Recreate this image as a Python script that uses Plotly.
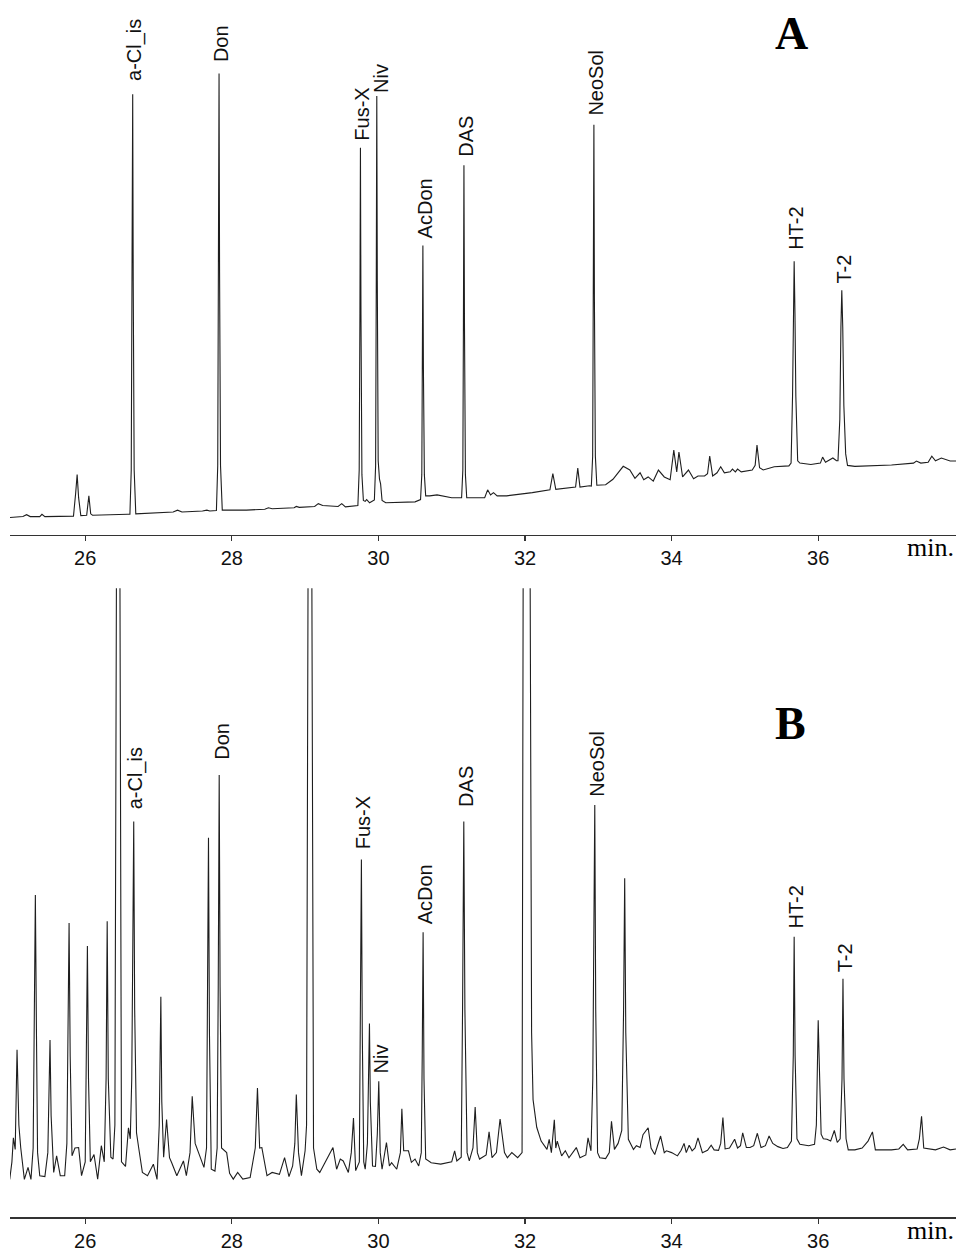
import plotly.graph_objects as go

# ---------------- data (retention time in min, relative intensity) ----------------
time_a = [24.97, 25.15, 25.20, 25.25, 25.38, 25.41, 25.45, 25.84, 25.87, 25.89, 25.91, 25.94,
          26.02, 26.05, 26.075, 26.10, 26.58,
          26.61, 26.628, 26.641, 26.648, 26.655, 26.668, 26.69,
          27.20, 27.26, 27.32, 27.60, 27.66, 27.70,
          27.79, 27.808, 27.819, 27.826, 27.833, 27.846, 27.87,
          28.20, 28.45, 28.50, 28.55, 28.85, 28.88, 28.92, 29.13, 29.18, 29.24, 29.45, 29.50, 29.55,
          29.72, 29.738, 29.748, 29.755, 29.762, 29.775, 29.795, 29.82, 29.84, 29.88,
          29.945, 29.962, 29.971, 29.978, 29.985, 29.997, 30.015, 30.03, 30.05, 30.10, 30.50,
          30.575, 30.592, 30.600, 30.607, 30.614, 30.627, 30.645, 30.70, 30.80, 31.00,
          31.135, 31.152, 31.160, 31.167, 31.174, 31.187, 31.205,
          31.45, 31.49, 31.53, 31.57, 31.62, 31.75, 32.00, 32.10, 32.34, 32.38, 32.42, 32.55,
          32.69, 32.72, 32.75, 32.88,
          32.905, 32.923, 32.933, 32.940, 32.947, 32.960, 32.98,
          33.10, 33.20, 33.34, 33.43, 33.50, 33.57, 33.62, 33.68, 33.75, 33.82, 33.90, 33.98,
          34.03, 34.07, 34.10, 34.15, 34.23, 34.30, 34.36, 34.45, 34.49, 34.52, 34.56, 34.62,
          34.67, 34.72, 34.80, 34.83, 34.87, 34.90, 34.95, 35.10, 35.14, 35.165, 35.20, 35.25,
          35.40, 35.60,
          35.63, 35.65, 35.662, 35.672, 35.683, 35.695, 35.72,
          35.75, 35.90, 36.03, 36.06, 36.10, 36.20, 36.25,
          36.27, 36.295, 36.31, 36.322, 36.335, 36.35, 36.375, 36.40,
          36.50, 37.00, 37.30, 37.34, 37.40, 37.50, 37.55, 37.60, 37.68, 37.80, 37.88]
signal_a = [3.7, 3.9, 4.3, 3.9, 3.9, 4.4, 3.9, 4.0, 9.0, 13.0, 8.0, 4.1,
            4.2, 8.4, 4.5, 4.2, 4.4,
            4.4, 14.0, 55.0, 95.5, 55.0, 14.0, 4.5,
            4.9, 5.3, 4.9, 5.1, 5.3, 5.1,
            5.2, 15.0, 57.0, 100.0, 57.0, 15.0, 5.3,
            5.3, 5.5, 5.8, 5.6, 5.8, 6.1, 5.9, 6.1, 6.7, 6.3, 6.1, 6.7, 6.0,
            6.3, 14.0, 48.0, 83.9, 48.0, 13.0, 7.4, 7.2, 7.6, 6.9,
            7.5, 15.0, 55.0, 95.1, 55.0, 16.0, 12.0, 11.0, 7.4, 6.9, 7.1,
            7.6, 13.0, 36.0, 62.7, 36.0, 13.0, 8.4, 8.4, 8.6, 8.0,
            8.0, 14.0, 46.0, 80.1, 46.0, 13.0, 8.0,
            8.0, 9.7, 8.6, 9.1, 8.4, 8.4, 8.8, 9.1, 9.7, 13.2, 9.8, 10.1,
            10.3, 14.4, 10.3, 10.6,
            10.5, 17.0, 51.0, 88.9, 51.0, 17.0, 10.7,
            10.8, 12.0, 14.8, 14.0, 12.2, 13.4, 11.9, 12.5, 11.6, 14.0, 12.5, 11.9,
            18.3, 13.6, 17.9, 12.5, 14.0, 12.1, 12.7, 12.7, 13.2, 17.0, 12.7, 13.4,
            14.7, 13.4, 13.6, 14.2, 13.6, 14.2, 13.6, 14.0, 15.0, 19.4, 14.5, 14.0,
            14.7, 14.9,
            15.5, 30.0, 48.0, 59.3, 48.0, 30.0, 16.0,
            15.5, 15.2, 15.5, 16.8, 15.7, 16.6, 16.0,
            16.0, 25.0, 45.0, 53.0, 45.0, 28.0, 17.5, 15.0,
            14.8, 15.1, 15.5, 15.95, 15.5, 15.7, 17.0, 16.0, 16.6, 15.95, 15.95]

time_b = [24.97, 25.00, 25.02, 25.045, 25.07, 25.095, 25.12, 25.17, 25.22, 25.26,
          25.29, 25.305, 25.32, 25.335, 25.35, 25.38, 25.45,
          25.49, 25.505, 25.52, 25.535, 25.57, 25.61, 25.66, 25.72,
          25.75, 25.765, 25.78, 25.795, 25.82, 25.86, 25.91, 25.95,
          26.00, 26.015, 26.03, 26.045, 26.07, 26.12, 26.17, 26.22, 26.26,
          26.285, 26.30, 26.315, 26.35, 26.38, 26.405, 26.428, 26.45, 26.472, 26.495,
          26.55, 26.59, 26.615, 26.635, 26.65, 26.662, 26.675, 26.70, 26.73, 26.78, 26.85,
          26.93, 26.98, 27.01, 27.022, 27.032, 27.045, 27.07, 27.11, 27.15, 27.18, 27.25,
          27.34, 27.38, 27.43, 27.46, 27.50, 27.55, 27.62,
          27.655, 27.67, 27.682, 27.695, 27.72, 27.77,
          27.80, 27.815, 27.828, 27.84, 27.86, 27.93, 27.97, 28.02, 28.08, 28.15, 28.25,
          28.32, 28.35, 28.38, 28.41, 28.48, 28.55, 28.65, 28.72, 28.78, 28.83,
          28.86, 28.88, 28.91, 28.95, 29.00, 29.02, 29.042, 29.065, 29.09, 29.115, 29.16,
          29.20, 29.38, 29.43, 29.48, 29.52, 29.59, 29.63, 29.66, 29.69,
          29.74, 29.755, 29.768, 29.78, 29.80, 29.82, 29.85, 29.865, 29.878, 29.89, 29.92,
          29.96, 29.985, 30.005, 30.025, 30.05, 30.11, 30.15, 30.18, 30.25,
          30.30, 30.32, 30.345, 30.38, 30.41, 30.45, 30.50, 30.55,
          30.585, 30.598, 30.61, 30.622, 30.645, 30.72, 30.85, 31.00, 31.04, 31.07,
          31.13, 31.148, 31.165, 31.18, 31.21, 31.24, 31.29, 31.32, 31.35, 31.38,
          31.47, 31.51, 31.55, 31.61, 31.66, 31.72, 31.76, 31.82, 31.90, 31.96,
          31.975, 32.02, 32.07, 32.09, 32.11, 32.16, 32.22, 32.30,
          32.33, 32.36, 32.40, 32.42, 32.44, 32.50, 32.55, 32.60, 32.70, 32.75, 32.83,
          32.86, 32.90, 32.925, 32.94, 32.952, 32.965, 32.99, 33.02, 33.10,
          33.15, 33.18, 33.22, 33.27, 33.32, 33.345, 33.36, 33.375, 33.41, 33.48, 33.52,
          33.57, 33.61, 33.68, 33.72, 33.77, 33.85, 33.90, 33.93, 34.00, 34.08, 34.13,
          34.17, 34.20, 34.24, 34.28, 34.32, 34.36, 34.42, 34.49, 34.54, 34.58, 34.64,
          34.67, 34.70, 34.73, 34.79, 34.86, 34.90, 34.94, 34.97, 35.02, 35.07, 35.12,
          35.17, 35.22, 35.28, 35.33, 35.38, 35.45, 35.52, 35.58,
          35.635, 35.66, 35.672, 35.685, 35.71, 35.75, 35.87, 35.95,
          35.975, 35.99, 36.00, 36.012, 36.025, 36.04, 36.07, 36.12, 36.17, 36.22, 36.26,
          36.30, 36.325, 36.338, 36.352, 36.38, 36.41, 36.50, 36.60, 36.68, 36.74, 36.78,
          37.00, 37.10, 37.16, 37.22, 37.35, 37.38, 37.41, 37.44, 37.60, 37.71, 37.80, 37.88]
signal_b = [8.2, 12.0, 17.2, 14.7, 36.3, 20.0, 15.1, 8.2, 10.8, 8.2,
            15.0, 45.0, 69.9, 40.0, 14.0, 9.0, 8.8,
            14.0, 28.0, 38.4, 22.0, 9.7, 13.3, 9.0, 9.0,
            16.0, 40.0, 63.8, 35.0, 13.3, 15.0, 15.1, 9.0,
            12.0, 35.0, 58.8, 30.0, 12.0, 13.6, 8.25, 15.5, 12.0,
            30.0, 64.2, 30.0, 13.0, 12.6, 20.0, 150.0, 300.0, 150.0, 12.0,
            11.0, 19.4, 17.0, 30.0, 60.0, 85.8, 45.0, 18.3, 15.0, 9.7, 9.0,
            11.5, 8.2, 20.0, 35.0, 47.8, 25.0, 13.0, 21.2, 12.9, 11.8, 9.0,
            12.2, 9.0, 14.0, 26.2, 16.0, 14.0, 10.8,
            15.0, 45.0, 82.3, 40.0, 10.4, 10.0,
            15.0, 50.0, 95.9, 50.0, 15.0, 14.0, 9.5, 8.25, 9.7, 8.25, 8.6,
            15.0, 28.0, 15.0, 15.1, 9.0, 9.7, 9.3, 12.9, 8.8, 11.1,
            16.0, 26.6, 14.0, 9.0, 14.4, 20.0, 150.0, 300.0, 150.0, 15.0, 10.4,
            9.7, 15.1, 10.4, 12.6, 12.2, 9.7, 14.0, 21.5, 10.1,
            12.0, 45.0, 77.6, 40.0, 12.0, 10.4, 16.0, 30.0, 42.0, 25.0, 11.1,
            11.0, 18.0, 29.5, 14.0, 10.4, 16.2, 11.1, 11.8, 10.4,
            14.0, 23.5, 14.4, 14.4, 14.4, 11.9, 12.6, 11.1,
            14.0, 35.0, 61.8, 30.0, 12.6, 11.8, 11.5, 12.0, 14.4, 12.2,
            13.0, 45.0, 85.8, 45.0, 14.0, 12.2, 15.0, 23.9, 14.0, 12.6,
            13.5, 18.5, 12.9, 14.0, 21.3, 14.0, 12.9, 14.0, 12.9, 14.0,
            140.0, 300.0, 140.0, 40.0, 25.5, 19.5, 16.5, 14.7,
            16.9, 14.0, 21.1, 15.0, 16.5, 13.3, 14.4, 12.9, 15.1, 12.9, 13.5,
            17.2, 14.4, 30.0, 60.0, 89.4, 45.0, 14.0, 12.9, 12.7,
            14.0, 20.8, 14.7, 16.0, 18.8, 45.0, 73.5, 40.0, 16.9, 14.7, 15.5,
            15.1, 17.9, 19.4, 15.0, 13.6, 17.6, 14.0, 14.4, 14.0, 13.3, 14.5,
            16.0, 14.0, 15.6, 14.4, 15.0, 17.2, 14.0, 14.5, 15.6, 14.6, 14.5,
            16.0, 21.6, 14.8, 15.0, 16.9, 15.0, 15.5, 18.3, 15.1, 15.1, 15.5,
            18.2, 15.1, 15.5, 17.6, 16.0, 15.3, 14.9, 15.1,
            16.5, 35.0, 60.8, 35.0, 17.0, 15.8, 15.5, 15.8,
            20.0, 35.0, 42.7, 35.0, 25.0, 18.0, 17.0, 16.9, 16.5, 18.8, 16.2,
            17.0, 30.0, 51.7, 30.0, 17.0, 14.6, 14.6, 15.0, 16.5, 18.5, 14.6,
            14.6, 14.8, 15.8, 14.6, 14.8, 17.0, 21.9, 15.0, 14.6, 15.2, 14.6, 14.8]

peak_names = ["a-Cl_is", "Don", "Fus-X", "Niv", "AcDon", "DAS", "NeoSol", "HT-2", "T-2"]
peak_rt_a = [26.648, 27.826, 29.755, 29.978, 30.607, 31.167, 32.940, 35.672, 36.322]
peak_height_a = [95.5, 100.0, 83.9, 95.1, 62.7, 80.1, 88.9, 59.3, 53.0]
peak_rt_b = [26.662, 27.828, 29.768, 30.005, 30.610, 31.165, 32.952, 35.672, 36.338]
peak_height_b = [85.8, 95.9, 77.6, 29.5, 61.8, 85.8, 89.4, 60.8, 51.7]

x_ticks = [26, 28, 30, 32, 34, 36]
x_range = [24.974, 37.88]
panel_letters = ["A", "B"]
time_unit = "min."

# ---------------- styling ----------------
W, H = 956, 1252
label_gap_a = [11, 9, 5, 1, 5, 7, 7, 9, 5]
label_gap_b = [10, 13, 8, 6, 6, 13, 6, 6, 5]
label_dx_a = [2, 2, 2, 3.5, 2, 2, 2, 2, 2]
label_dx_b = [2, 2, 2, 2, 2, 2, 2, 2, 2]
LINE = "#1e1e1e"
SANS = "Liberation Sans, Arial, Helvetica, sans-serif"
SERIF = "Liberation Serif, Times New Roman, serif"

fig = go.Figure()
fig.add_trace(go.Scatter(x=time_a, y=signal_a, mode="lines", xaxis="x", yaxis="y",
                         line=dict(color=LINE, width=1.1), hoverinfo="skip"))
fig.add_trace(go.Scatter(x=time_b, y=signal_b, mode="lines", xaxis="x2", yaxis="y2",
                         line=dict(color=LINE, width=1.1), hoverinfo="skip"))

axis_common = dict(range=x_range, showline=True, linecolor="#333333", linewidth=1.5,
                   ticks="outside", ticklen=5, tickwidth=1.2, tickcolor="#333333",
                   tickvals=x_ticks, ticktext=[str(t) for t in x_ticks],
                   tickfont=dict(family=SANS, size=20, color="#111111"),
                   showgrid=False, zeroline=False, fixedrange=True)

fig.update_layout(
    width=W, height=H, margin=dict(l=0, r=0, t=0, b=0),
    paper_bgcolor="white", plot_bgcolor="white", showlegend=False,
    xaxis=dict(domain=[10 / W, 1], anchor="y", **axis_common),
    yaxis=dict(domain=[1 - 538 / H, 1], range=[0, 115.95], visible=False, fixedrange=True),
    xaxis2=dict(domain=[10 / W, 1], anchor="y2", **axis_common),
    yaxis2=dict(domain=[1 - 1225 / H, 1 - 592 / H], range=[0, 136.42], visible=False,
                fixedrange=True),
)

annotations = []
for name, rt, h, g, dx in zip(peak_names, peak_rt_a, peak_height_a, label_gap_a, label_dx_a):
    annotations.append(dict(x=rt, y=h, xref="x", yref="y", text=name, showarrow=False,
                            textangle=-90, xanchor="center", yanchor="bottom",
                            yshift=g, xshift=dx,
                            font=dict(family=SANS, size=20, color="#111111")))
for name, rt, h, g, dx in zip(peak_names, peak_rt_b, peak_height_b, label_gap_b, label_dx_b):
    annotations.append(dict(x=rt, y=h, xref="x2", yref="y2", text=name, showarrow=False,
                            textangle=-90, xanchor="center", yanchor="bottom",
                            yshift=g, xshift=dx,
                            font=dict(family=SANS, size=20, color="#111111")))

# panel letters
annotations.append(dict(x=791 / W, y=1 - 34 / H, xref="paper", yref="paper",
                        text="<b>%s</b>" % panel_letters[0], showarrow=False,
                        xanchor="center", yanchor="middle",
                        font=dict(family=SERIF, size=46, color="black")))
annotations.append(dict(x=790 / W, y=1 - 728 / H, xref="paper", yref="paper",
                        text="<b>%s</b>" % panel_letters[1], showarrow=False,
                        xanchor="center", yanchor="middle",
                        font=dict(family=SERIF, size=46, color="black")))
# unit labels
for ypx in (551, 1238):
    annotations.append(dict(x=1, y=1 - ypx / H, xref="paper", yref="paper", text=time_unit,
                            showarrow=False, xanchor="right", yanchor="middle",
                            font=dict(family=SERIF, size=26, color="black")))

fig.update_layout(annotations=annotations)

fig.write_html("out.html", config={"displayModeBar": False, "staticPlot": True},
               post_script="document.body.style.margin='0';document.body.style.overflow='hidden';")
